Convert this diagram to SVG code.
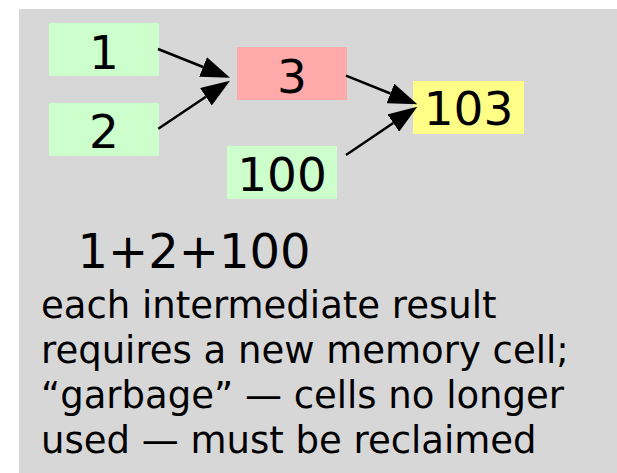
<svg xmlns="http://www.w3.org/2000/svg" width="617" height="473" viewBox="0 0 617 473">
  <style>
    .cell text { font-family: "DejaVu Sans", Verdana, sans-serif; font-size: 47px; fill: #000; text-anchor: middle; }
    .src rect { fill: #ccffcc; }
    .tmp rect { fill: #ffaaaa; }
    .res rect { fill: #ffff88; }
    .conn line { stroke: #000; stroke-width: 2.5; marker-end: url(#head); }
    .note { font-family: "DejaVu Sans", Verdana, sans-serif; fill: #000; }
  </style>
  <defs>
    <marker id="head" markerUnits="userSpaceOnUse" viewBox="0 0 29 21" markerWidth="29" markerHeight="21" refX="0" refY="10.5" orient="auto">
      <path d="M0,0 L29,10.5 L0,21 z" fill="#000"/>
    </marker>
  </defs>

  <!-- panel -->
  <rect x="19" y="9" width="598" height="464" fill="#d7d7d7"/>

  <!-- memory cells -->
  <g id="n1" class="cell src">
    <rect x="49" y="23" width="110" height="53"/>
    <text x="104" y="69">1</text>
  </g>
  <g id="n2" class="cell src">
    <rect x="49" y="103" width="110" height="53"/>
    <text x="104" y="148">2</text>
  </g>
  <g id="n3" class="cell tmp">
    <rect x="237" y="47" width="110" height="53"/>
    <text x="292" y="93">3</text>
  </g>
  <g id="n100" class="cell src">
    <rect x="227" y="146" width="110" height="53"/>
    <text x="282" y="191">100</text>
  </g>
  <g id="n103" class="cell res">
    <rect x="413" y="81" width="111" height="53"/>
    <text x="468.5" y="124.5">103</text>
  </g>

  <!-- connectors (lines end at the arrowhead base) -->
  <g id="connectors" class="conn">
    <line x1="158" y1="49" x2="203.1" y2="67"/>
    <line x1="158.3" y1="128.7" x2="205.9" y2="96.8"/>
    <line x1="346" y1="75.7" x2="390.4" y2="93.5"/>
    <line x1="346" y1="155" x2="393.3" y2="123"/>
  </g>

  <!-- caption -->
  <text class="note" x="77.5" y="267.5" font-size="48">1+2+100</text>
  <g class="note" font-size="37">
    <text x="41" y="318">each intermediate result</text>
    <text x="41" y="363">requires a new memory cell;</text>
    <text x="41" y="408">“garbage” — cells no longer</text>
    <text x="41" y="453">used — must be reclaimed</text>
  </g>
</svg>
